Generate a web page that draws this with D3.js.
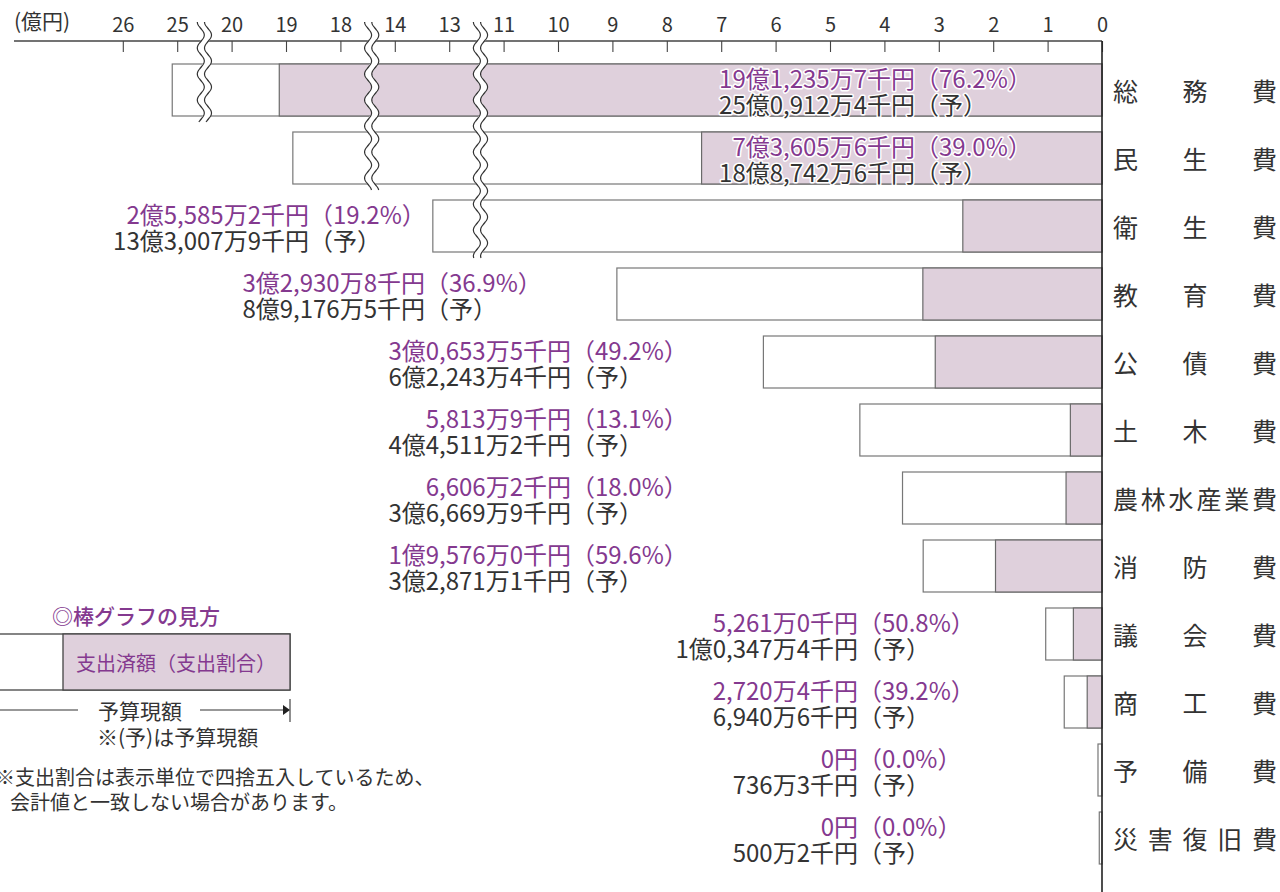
<!DOCTYPE html>
<html lang="ja">
<head>
<meta charset="utf-8">
<script src="https://cdn.jsdelivr.net/npm/d3@7"></script>
<style>
  html, body { margin: 0; padding: 0; background: #fff; }
  svg { display: block; font-family: "Noto Sans CJK JP", "Noto Sans", sans-serif; }
</style>
</head>
<body>
<svg id="chart" width="1280" height="892"></svg>
<script>
// 目的別の歳出 — 予算現額と支出済額（単位：千円）
var categories = ['総務費', '民生費', '衛生費', '教育費', '公債費', '土木費',
                  '農林水産業費', '消防費', '議会費', '商工費', '予備費', '災害復旧費'];
var budget = [2509124, 1887426, 1330079, 891765, 622434, 445112,
              366699, 328711, 103474, 69406, 7363, 5002];
var spent  = [1912357, 736056, 255852, 329308, 306535, 58139,
              66062, 195760, 52610, 27204, 0, 0];
var spentPct = [76.2, 39.0, 19.2, 36.9, 49.2, 13.1, 18.0, 59.6, 50.8, 39.2, 0.0, 0.0];
var tickValues = [26, 25, 20, 19, 18, 14, 13, 11, 10, 9, 8, 7, 6, 5, 4, 3, 2, 1, 0];

// broken axis: each break squeezes its gap into one unit width
var axisDomain = [0, 11, 13, 14, 18, 20, 25, 26];
var axisUnits  = [0, 11, 12, 13, 14, 16, 17, 18];
var breakValues = [22.5, 15.7, 11.85];
var breakLastRow = [0, 1, 2];

// where the "円" of each label ends (layout only)
var labelAnchor = [915, 915, 309, 425, 571, 571, 571, 571, 858, 858, 858, 858];

var PURPLE = '#84398f', FILL = '#dfd0dc', INK = '#333', LINE = '#444';
var x0 = 1102, unit = 54.4;

var svg = d3.select('#chart');

var x = d3.scaleLinear()
  .domain(axisDomain)
  .range(axisUnits.map(function(u) { return x0 - u * unit; }));

var y = d3.scaleBand()
  .domain(categories)
  .range([56, 56 + 68 * categories.length])
  .paddingInner(16 / 68)
  .paddingOuter(8 / 68);

function oku(v) { return v / 100000; }   // 千円 -> 億円

// "19億1,235万7千円" style text from a value in 千円
function yen(v) {
  if (v === 0) return '0円';
  var o = Math.floor(v / 100000);
  var m = Math.floor((v % 100000) / 10);
  var s = v % 10;
  var ms = o > 0 ? String(m).padStart(4, '0') : String(m);
  if (ms.length === 4) ms = ms.slice(0, 1) + ',' + ms.slice(1);
  return (o > 0 ? o + '億' : '') + ms + '万' + s + '千円';
}

// axis
var axis = d3.axisTop(x).tickValues(tickValues).tickSize(-11).tickPadding(9)
  .tickFormat(d3.format('d'));
var gAxis = svg.append('g').attr('transform', 'translate(0,41)').call(axis);
gAxis.select('.domain').remove();
gAxis.selectAll('line').attr('stroke', LINE).attr('stroke-width', 1.1);
gAxis.selectAll('text').attr('font-size', 20).attr('fill', INK)
  .attr('font-family', '"Noto Sans CJK JP", sans-serif');

svg.append('line').attr('x1', 14).attr('x2', x(0)).attr('y1', 41).attr('y2', 41)
  .attr('stroke', LINE).attr('stroke-width', 1.3);
svg.append('text').attr('x', 14).attr('y', 29).attr('font-size', 21).attr('fill', INK)
  .text('(億円)');

// bars
var rows = svg.append('g').selectAll('g').data(categories).enter().append('g');

rows.append('rect')
  .attr('x', function(d, i) { return x(oku(budget[i])); })
  .attr('y', function(d) { return y(d); })
  .attr('width', function(d, i) { return x(0) - x(oku(budget[i])); })
  .attr('height', y.bandwidth())
  .attr('fill', '#fff').attr('stroke', '#777').attr('stroke-width', 1.2);

rows.filter(function(d, i) { return spent[i] > 0; }).append('rect')
  .attr('x', function(d) { var i = categories.indexOf(d); return x(oku(spent[i])); })
  .attr('y', function(d) { return y(d); })
  .attr('width', function(d) { var i = categories.indexOf(d); return x(0) - x(oku(spent[i])); })
  .attr('height', y.bandwidth())
  .attr('fill', FILL).attr('stroke', '#6a6a6a').attr('stroke-width', 1.2);

// axis break marks
function wave(cx, ya, yb) {
  var pts = d3.range(ya, yb + 0.5, 1).map(function(v) {
    return [cx - 3.5 * Math.cos((v - ya) / 26 * 2 * Math.PI), v];
  });
  return d3.line()(pts);
}
breakValues.forEach(function(v, k) {
  var cx = x(v), ya = 22, yb = y(categories[breakLastRow[k]]) + y.bandwidth() + 6;
  svg.append('path').attr('d', wave(cx, ya, yb)).attr('fill', 'none')
    .attr('stroke', '#fff').attr('stroke-width', 7);
  [-3.6, 3.6].forEach(function(off) {
    svg.append('path').attr('d', wave(cx + off, ya, yb)).attr('fill', 'none')
      .attr('stroke', '#333').attr('stroke-width', 1.2);
  });
});

// right axis line
svg.append('line').attr('x1', x(0)).attr('x2', x(0)).attr('y1', 41).attr('y2', 892)
  .attr('stroke', '#222').attr('stroke-width', 1.6);

// value labels
var lab = svg.append('g').attr('font-size', 24);
categories.forEach(function(c, i) {
  var cy = y(c) + y.bandwidth() / 2, ax = labelAnchor[i];
  var inside = ax > x(oku(budget[i]));
  var lines = [
    { a: yen(spent[i]), b: '（' + spentPct[i].toFixed(1) + '%）', col: PURPLE, dy: -13 },
    { a: yen(budget[i]), b: '（予）', col: INK, dy: 13 }
  ];
  lines.forEach(function(l) {
    [[l.a, 'end'], [l.b, 'start']].forEach(function(p) {
      var t = lab.append('text').attr('x', ax).attr('y', cy + l.dy)
        .attr('dominant-baseline', 'central').attr('text-anchor', p[1])
        .attr('fill', l.col).text(p[0]);
      if (inside) t.attr('stroke', '#fff').attr('stroke-width', 3)
        .attr('paint-order', 'stroke').attr('stroke-linejoin', 'round');
    });
  });
});

// category labels, justified across the right column
var catL = 1113, catR = 1277, catFs = 25;
categories.forEach(function(c) {
  var chars = c.split(''), n = chars.length;
  var step = (catR - catL - catFs) / (n - 1);
  chars.forEach(function(ch, j) {
    svg.append('text').attr('x', catL + j * step).attr('y', y(c) + y.bandwidth() / 2)
      .attr('dominant-baseline', 'central').attr('font-size', catFs)
      .attr('fill', INK).text(ch);
  });
});

// legend
var lg = svg.append('g');
lg.append('text').attr('x', 52).attr('y', 615).attr('dominant-baseline', 'central')
  .attr('font-size', 21).attr('fill', PURPLE).attr('font-weight', 500).text('◎棒グラフの見方');
lg.append('rect').attr('x', -2).attr('y', 634).attr('width', 292).attr('height', 56)
  .attr('fill', '#fff').attr('stroke', LINE).attr('stroke-width', 1.3);
lg.append('rect').attr('x', 63).attr('y', 634).attr('width', 227).attr('height', 56)
  .attr('fill', FILL).attr('stroke', LINE).attr('stroke-width', 1.3);
lg.append('text').attr('x', 176).attr('y', 662).attr('dominant-baseline', 'central')
  .attr('text-anchor', 'middle').attr('font-size', 20).attr('fill', PURPLE)
  .text('支出済額（支出割合）');
lg.append('line').attr('x1', 0).attr('x2', 78).attr('y1', 710).attr('y2', 710)
  .attr('stroke', INK).attr('stroke-width', 1.1);
lg.append('line').attr('x1', 200).attr('x2', 284).attr('y1', 710).attr('y2', 710)
  .attr('stroke', INK).attr('stroke-width', 1.1);
lg.append('path').attr('d', 'M283,705L290,710L283,715Z').attr('fill', '#222');
lg.append('line').attr('x1', 290).attr('x2', 290).attr('y1', 699).attr('y2', 722)
  .attr('stroke', INK).attr('stroke-width', 1.1);
lg.append('text').attr('x', 140).attr('y', 710).attr('dominant-baseline', 'central')
  .attr('text-anchor', 'middle').attr('font-size', 21).attr('fill', INK).text('予算現額');
lg.append('text').attr('x', 97).attr('y', 736).attr('dominant-baseline', 'central')
  .attr('font-size', 21).attr('fill', INK).text('※(予)は予算現額');

lg.append('text').attr('x', -5).attr('y', 776).attr('dominant-baseline', 'central')
  .attr('font-size', 20).attr('fill', INK).text('※支出割合は表示単位で四捨五入しているため、');
lg.append('text').attr('x', 10).attr('y', 801).attr('dominant-baseline', 'central')
  .attr('font-size', 20).attr('fill', INK).text('会計値と一致しない場合があります。');
</script>
</body>
</html>
